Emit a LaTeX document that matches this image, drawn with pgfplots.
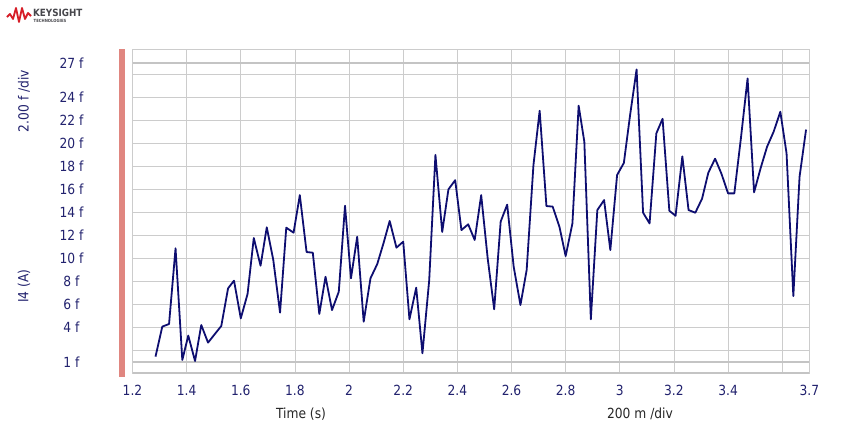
\documentclass[border=0pt]{standalone}
\usepackage{pgfplots}
\pgfplotsset{compat=1.18}
\usepackage{fontspec}
\setmainfont{DejaVu Sans}[FakeStretch=0.88]
\definecolor{navy}{RGB}{14,14,112}
\definecolor{labnavy}{RGB}{34,34,110}
\definecolor{gridgray}{RGB}{204,204,204}
\definecolor{thickgray}{RGB}{196,196,196}
\definecolor{barred}{RGB}{224,134,128}
\definecolor{logored}{RGB}{214,30,40}
\definecolor{logogray}{RGB}{70,70,75}
\newcommand\lab{\fontsize{14}{16}\selectfont}
\begin{document}
\begin{tikzpicture}
\path[use as bounding box] (0,0) rectangle (860bp,-425bp);
% logo
\draw[logored, line width=1.8bp, line join=round] (7bp,-17bp) -- (10bp,-14bp) -- (13bp,-19bp) -- (16bp,-8bp) -- (19bp,-22bp) -- (22bp,-8bp) -- (25bp,-19bp) -- (28bp,-13bp) -- (31bp,-16bp);
\node[anchor=west, inner sep=0pt, text=logogray, font={\fontsize{10}{10}\selectfont\bfseries}] at (33bp,-13bp) {KEYSIGHT};
\node[anchor=west, inner sep=0pt, text=logogray, font={\fontsize{4.3}{4.3}\selectfont\bfseries}] at (33.5bp,-20.5bp) {TECHNOLOGIES};
% red bar
\fill[barred] (119bp,-49bp) rectangle (125bp,-377bp);
% rotated labels
\node[rotate=90, text=labnavy, font=\lab] at (24bp,-101bp) {2.00 f /div};
\node[rotate=90, text=labnavy, font=\lab] at (24bp,-286bp) {I4 (A)};
% axis labels
\node[text=black!85, font=\lab] at (301bp,-414bp) {Time (s)};
\node[text=black!85, font=\lab] at (640bp,-414bp) {200 m /div};
\begin{axis}[
  at={(132.5bp,-373.3bp)}, anchor=south west,
  scale only axis, width=676.8bp, height=323.6bp,
  xmin=1.2, xmax=3.7, ymin=0, ymax=28.15,
  axis line style={draw=gridgray, line width=0.8bp},
  major tick length=0,
  grid=major,
  grid style={draw=gridgray, line width=0.8bp},
  xtick={1.2,1.4,1.6,1.8,2.0,2.2,2.4,2.6,2.8,3.0,3.2,3.4,3.6,3.7},
  xticklabels={1.2,1.4,1.6,1.8,2,2.2,2.4,2.6,2.8,3,3.2,3.4,,3.7},
  ytick={1,2,4,6,8,10,12,14,16,18,20,22,24,26,27},
  yticklabels={1 f,,4 f,6 f,8 f,10 f,12 f,14 f,16 f,18 f,20 f,22 f,24 f,,27 f},
  xticklabel style={anchor=center, yshift=-17bp, text=labnavy, font=\lab},
  yticklabel style={anchor=center, xshift=-61bp, text=labnavy, font=\lab},
  clip=false,
]
\draw[thickgray, line width=2bp] (axis cs:1.2,1) -- (axis cs:3.7,1);
\draw[thickgray, line width=2bp] (axis cs:1.2,27) -- (axis cs:3.7,27);
\draw[thickgray, line width=2bp] (axis cs:1.2,0) -- (axis cs:3.7,0);
\addplot[navy, line width=1.8bp, line join=round, mark=none] coordinates {
(1.285,1.45) (1.310,4.06) (1.335,4.29) (1.359,10.87) (1.384,1.16)
(1.406,3.28) (1.431,1.07) (1.454,4.20) (1.479,2.67) (1.528,4.12)
(1.553,7.39) (1.575,8.06) (1.600,4.78) (1.625,6.90) (1.648,11.77)
(1.673,9.36) (1.696,12.70) (1.720,9.86) (1.745,5.28) (1.768,12.67)
(1.795,12.23) (1.818,15.50) (1.843,10.55) (1.866,10.49) (1.890,5.16)
(1.913,8.40) (1.937,5.50) (1.962,7.10) (1.985,14.58) (2.007,8.26)
(2.030,11.88) (2.054,4.49) (2.079,8.26) (2.104,9.50) (2.127,11.30)
(2.150,13.25) (2.175,10.93) (2.200,11.45) (2.223,4.70) (2.248,7.45)
(2.271,1.74) (2.296,8.10) (2.319,19.00) (2.344,12.30) (2.367,16.00)
(2.392,16.80) (2.415,12.46) (2.440,12.96) (2.464,11.60) (2.488,15.50)
(2.512,10.00) (2.536,5.57) (2.560,13.20) (2.584,14.67) (2.608,9.28)
(2.633,5.94) (2.656,8.99) (2.681,18.10) (2.704,22.84) (2.729,14.55)
(2.752,14.50) (2.777,12.75) (2.800,10.20) (2.825,13.04) (2.848,23.28)
(2.869,20.14) (2.893,4.70) (2.917,14.20) (2.942,15.07) (2.965,10.72)
(2.990,17.25) (3.015,18.30) (3.038,22.46) (3.062,26.43) (3.086,13.97)
(3.110,13.04) (3.135,20.87) (3.158,22.14) (3.183,14.14) (3.206,13.70)
(3.231,18.87) (3.254,14.20) (3.279,13.97) (3.304,15.20) (3.327,17.45)
(3.352,18.67) (3.375,17.39) (3.400,15.65) (3.423,15.65) (3.448,20.58)
(3.472,25.65) (3.496,15.74) (3.520,17.83) (3.544,19.71) (3.568,21.00)
(3.593,22.75) (3.616,19.13) (3.641,6.72) (3.664,17.10) (3.688,21.20)
};
\end{axis}
\end{tikzpicture}
\end{document}
